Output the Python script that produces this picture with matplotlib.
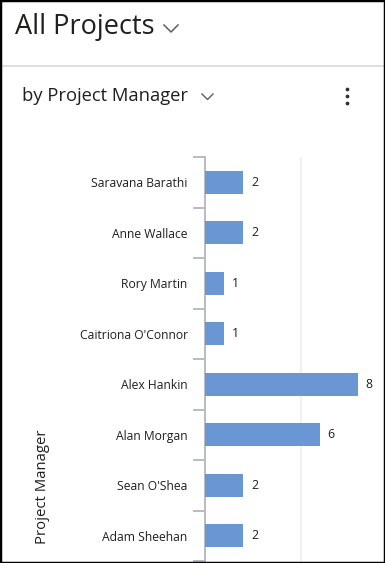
import matplotlib
matplotlib.use('Agg')
import matplotlib.pyplot as plt
from matplotlib.lines import Line2D
from matplotlib.patches import Rectangle

# data, top to bottom as in the chart
managers = ['Saravana Barathi', 'Anne Wallace', 'Rory Martin', "Caitriona O'Connor",
            'Alex Hankin', 'Alan Morgan', "Sean O'Shea", 'Adam Sheehan']
projects = [2, 2, 1, 1, 8, 6, 2, 2]

plt.rcParams['font.family'] = ['Open Sans', 'DejaVu Sans']
txt = '#201f1e'
W, H = 385, 563

fig = plt.figure(figsize=(W / 100, H / 100), dpi=100)
fig.patch.set_facecolor('white')

def fx(px):
    return px / W

def fy(py):
    return 1 - py / H

# header
fig.text(fx(15), fy(27), 'All Projects', fontsize=19.5, color=txt, va='center', ha='left')
fig.add_artist(Line2D([fx(164), fx(171), fx(178)], [fy(25), fy(32), fy(25)],
                      color='#605e5c', lw=1.1))
fig.add_artist(Line2D([0, 1], [fy(66), fy(66)], color='#d9d9d9', lw=1.2))

fig.text(fx(22), fy(96), 'by Project Manager', fontsize=13.2, color=txt, va='center', ha='left')
fig.add_artist(Line2D([fx(202), fx(207.5), fx(213)], [fy(94), fy(99.5), fy(94)],
                      color='#605e5c', lw=1.0))
for yy in (89, 96, 103):
    fig.add_artist(Line2D([fx(347)], [fy(yy)], marker='o', ms=1.7, color='#323130', lw=0))

# chart
ax = fig.add_axes([fx(205), fy(561), fx(383) - fx(205), fy(157) - fy(561)])
pos = list(range(len(managers)))
bars = ax.barh(pos, projects, height=0.45, color='#6a97d4', edgecolor='none', zorder=3)
ax.bar_label(bars, labels=[str(v) for v in projects], padding=5.5, fontsize=8.8, color=txt)

ax.set_xlim(0, 9.3)
ax.set_ylim(len(managers) - 0.5, -0.5)

ax.set_xticks([0, 5])
ax.xaxis.grid(True, color='#efefef', lw=1.2, zorder=0)
ax.tick_params(axis='x', length=0, labelbottom=False)

ax.set_yticks([p - 0.5 for p in pos] + [len(managers) - 0.5])
ax.set_yticklabels([])
ax.set_yticks(pos, minor=True)
ax.set_yticklabels(managers, minor=True, fontsize=8.7, color=txt)
ax.tick_params(axis='y', which='major', length=9, width=1.4, color='#b8bcc2', direction='out')
ax.tick_params(axis='y', which='minor', length=0, pad=12.5)

for s in ('top', 'right', 'bottom'):
    ax.spines[s].set_visible(False)
ax.spines['left'].set_color('#b8bcc2')
ax.spines['left'].set_linewidth(1.4)

fig.text(fx(43), fy(487), 'Project Manager', rotation=90, fontsize=10.7, color=txt,
         ha='center', va='center')

# outer border
fig.add_artist(Rectangle((0, 0), 1, 1, transform=fig.transFigure, fill=False,
                         edgecolor='black', lw=2.5, zorder=10))

fig.savefig('out.png', dpi=100)
